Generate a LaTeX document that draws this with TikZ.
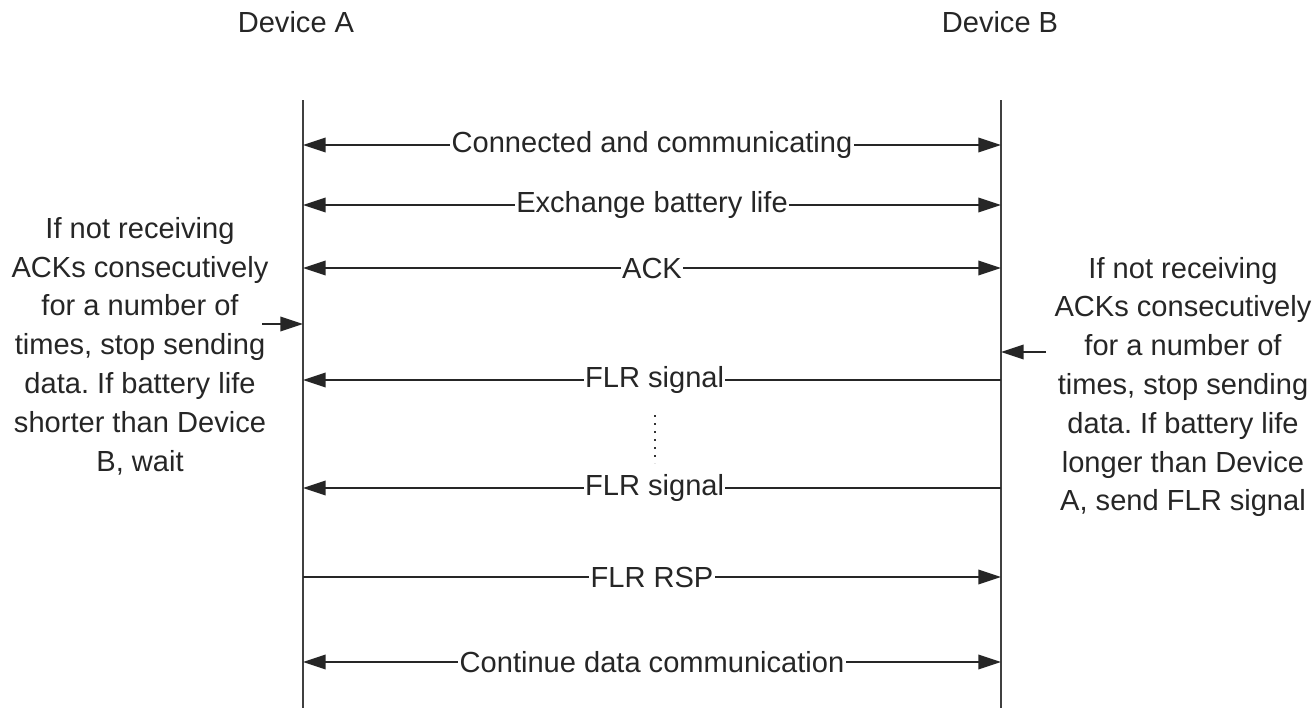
\documentclass[tikz,border=0pt]{standalone}
\usepackage{fontspec}
\setmainfont{Liberation Sans}
\usetikzlibrary{arrows.meta}
\frenchspacing
\begin{document}
\begin{tikzpicture}[x=0.75pt,y=-0.75pt,
  every node/.style={font=\fontsize{21.8pt}{29.1pt}\selectfont, text=black!85},
  life/.style={line width=1.3pt, draw=black!75},
  msg/.style={line width=1.1pt, draw=black!85, -{Triangle[length=17pt,width=11pt]}},
  bimsg/.style={line width=1.1pt, draw=black!85, {Triangle[length=17pt,width=11pt]}-{Triangle[length=17pt,width=11pt]}},
  lbl/.style={fill=white, inner sep=1pt},
  note/.style={align=center, inner sep=0pt}]
\useasboundingbox (0,0) rectangle (1314,708);
\node (devA) at (296,22) {Device A};
\node (devB) at (1000,22) {Device B};
\coordinate (aTop) at (303,100);
\coordinate (aBot) at (303,708);
\coordinate (bTop) at (1001,100);
\coordinate (bBot) at (1001,708);
\draw[life] (aTop) -- (aBot);
\draw[life] (bTop) -- (bBot);
% messages
\coordinate (a1) at (303,145); \coordinate (b1) at (1001,145);
\coordinate (a2) at (303,205); \coordinate (b2) at (1001,205);
\coordinate (a3) at (303,268); \coordinate (b3) at (1001,268);
\coordinate (a4) at (303,380); \coordinate (b4) at (1001,380);
\coordinate (a5) at (303,488); \coordinate (b5) at (1001,488);
\coordinate (a6) at (303,577); \coordinate (b6) at (1001,577);
\coordinate (a7) at (303,662); \coordinate (b7) at (1001,662);
\draw[bimsg] (a1) -- node[lbl] (m1) {Connected and communicating} (b1);
\draw[bimsg] (a2) -- node[lbl] (m2) {Exchange battery life} (b2);
\draw[bimsg] (a3) -- node[lbl] (m3) {ACK} (b3);
\draw[msg] (b4) -- node[lbl, xshift=2] (m4) {FLR signal} (a4);
\draw[msg] (b5) -- node[lbl, xshift=2] (m5) {FLR signal} (a5);
\draw[msg] (a6) -- node[lbl] (m6) {FLR RSP} (b6);
\draw[bimsg] (a7) -- node[lbl] (m7) {Continue data communication} (b7);
% dotted continuation
\coordinate (d1) at (655,415);
\coordinate (d2) at (655,463);
\draw[line width=1.6pt, draw=black!80, dash pattern=on 1.6pt off 4.4pt] (d1) -- (d2);
% notes
\node[note] (noteA) at (140,346) {If not receiving\\ACKs consecutively\\for a number of\\times, stop sending\\data. If battery life\\shorter than Device\\B, wait};
\node[note] (noteB) at (1183,387) {If not receiving\\ACKs consecutively\\for a number of\\times, stop sending\\data. If battery life\\longer than Device\\A, send FLR signal};
\coordinate (nA) at (262,324);
\coordinate (lA) at (303,324);
\draw[msg] (nA) -- (lA);
\coordinate (nB) at (1046,352);
\coordinate (lB) at (1001,352);
\draw[msg] (nB) -- (lB);
\end{tikzpicture}
\end{document}
